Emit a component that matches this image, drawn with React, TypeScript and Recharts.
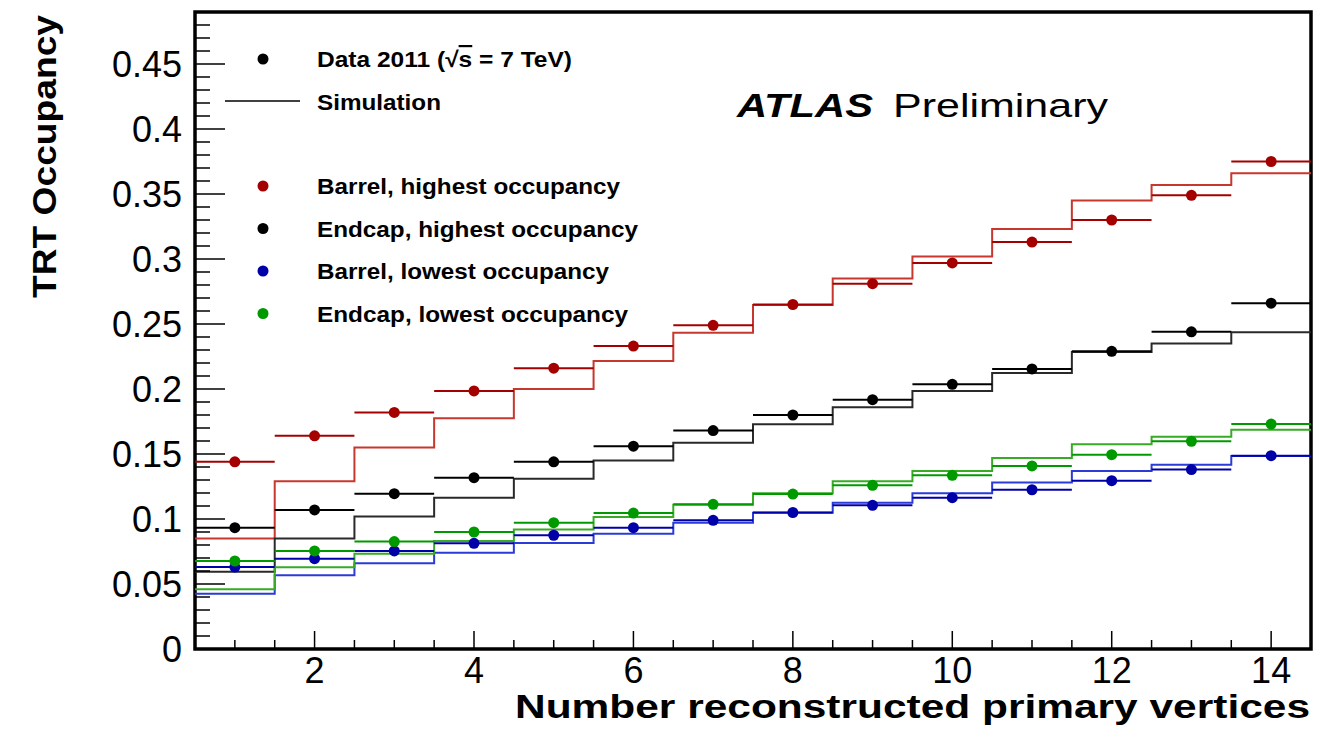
import React from "react";
import {
  ComposedChart,
  Line,
  Scatter,
  ErrorBar,
  XAxis,
  YAxis,
  ReferenceArea,
} from "recharts";

// number of reconstructed primary vertices (bin centres)
const binCenters = [1, 2, 3, 4, 5, 6, 7, 8, 9, 10, 11, 12, 13, 14];

// data 2011 points
const barrelHighData = [0.144, 0.164, 0.182, 0.1985, 0.216, 0.233, 0.249, 0.265, 0.281, 0.297, 0.313, 0.33, 0.349, 0.375];
const endcapHighData = [0.0933, 0.107, 0.1195, 0.1318, 0.144, 0.156, 0.168, 0.18, 0.1918, 0.2036, 0.2154, 0.229, 0.244, 0.266];
const barrelLowData = [0.063, 0.0695, 0.0754, 0.0813, 0.0875, 0.0933, 0.099, 0.105, 0.1105, 0.1164, 0.1225, 0.1295, 0.138, 0.1487];
const endcapLowData = [0.0677, 0.0754, 0.0826, 0.09, 0.0972, 0.1046, 0.1113, 0.1192, 0.1259, 0.1336, 0.1408, 0.1495, 0.1598, 0.173];

// simulation histograms
const barrelHighSim = [0.085, 0.129, 0.155, 0.1775, 0.2, 0.2215, 0.2433, 0.2646, 0.285, 0.302, 0.323, 0.345, 0.357, 0.366];
const endcapHighSim = [0.0595, 0.085, 0.102, 0.1164, 0.131, 0.145, 0.1587, 0.1728, 0.186, 0.1985, 0.2123, 0.2285, 0.235, 0.2436];
const barrelLowSim = [0.0425, 0.0567, 0.066, 0.074, 0.0815, 0.0887, 0.0972, 0.1049, 0.1125, 0.1198, 0.128, 0.137, 0.1418, 0.1485];
const endcapLowSim = [0.046, 0.0628, 0.0733, 0.083, 0.092, 0.1015, 0.111, 0.1198, 0.129, 0.137, 0.147, 0.1575, 0.1633, 0.1687];

const xMajorTicks = [2, 4, 6, 8, 10, 12, 14];
const yMajorTicks = [0, 0.05, 0.1, 0.15, 0.2, 0.25, 0.3, 0.35, 0.4, 0.45];
const yTickLabels = ["0", "0.05", "0.1", "0.15", "0.2", "0.25", "0.3", "0.35", "0.4", "0.45"];

const xTicks = Array.from({ length: 27 }, (_, i) => 1 + i * 0.5);
const yTicks = Array.from({ length: 49 }, (_, i) => i / 100);

const FONT = "'Liberation Sans', Arial, Helvetica, sans-serif";

const binBar = 0.5;

function toPoints(vals: number[]) {
  return binCenters.map((x, i) => ({ x, y: vals[i], ex: binBar }));
}

function toSteps(vals: number[]) {
  const pts = binCenters.map((x, i) => ({ x: x - binBar, y: vals[i] }));
  pts.push({ x: binCenters[binCenters.length - 1] + binBar, y: vals[vals.length - 1] });
  return pts;
}

const series = [
  { name: "Barrel, highest occupancy", len: 303, data: barrelHighData, sim: barrelHighSim, dot: "#a50000", line: "#c8372d" },
  { name: "Endcap, highest occupancy", len: 321, data: endcapHighData, sim: endcapHighSim, dot: "#000000", line: "#2a2a2a" },
  { name: "Barrel, lowest occupancy", len: 292, data: barrelLowData, sim: barrelLowSim, dot: "#0000a8", line: "#2b3bd8" },
  { name: "Endcap, lowest occupancy", len: 311, data: endcapLowData, sim: endcapLowSim, dot: "#009a00", line: "#38aa25" },
];

const isMajorY = (v: number) => Math.round(v * 100) % 5 === 0;
const isMajorX = (v: number) => xMajorTicks.includes(v);

const LeftTick = (props: any) => {
  const { x, y, payload } = props;
  const major = isMajorY(payload.value);
  const idx = yMajorTicks.findIndex((t) => Math.abs(t - payload.value) < 1e-6);
  return (
    <g>
      <line x1={x} x2={x + (major ? 30 : 15)} y1={y} y2={y} stroke="#000" strokeWidth={1.5} />
      {idx >= 0 && (
        <text x={x - 13} y={y} dy="0.36em" textAnchor="end" fontSize={36} fontFamily={FONT} fill="#000">
          {yTickLabels[idx]}
        </text>
      )}
    </g>
  );
};

const RightTick = (props: any) => {
  const { x, y, payload } = props;
  const major = isMajorY(payload.value);
  return <line x1={x} x2={x - (major ? 28 : 14)} y1={y} y2={y} stroke="#000" strokeWidth={1.5} />;
};

const BottomTick = (props: any) => {
  const { x, y, payload } = props;
  const major = isMajorX(payload.value);
  return (
    <g>
      <line x1={x} x2={x} y1={y} y2={y - (major ? 18 : 9)} stroke="#000" strokeWidth={1.5} />
      {major && (
        <text x={x} y={y + 34} textAnchor="middle" fontSize={36} fontFamily={FONT} fill="#000">
          {payload.value}
        </text>
      )}
    </g>
  );
};

const TopTick = (props: any) => {
  const { x, y, payload } = props;
  const major = isMajorX(payload.value);
  return <line x1={x} x2={x} y1={y} y2={y + (major ? 19 : 10)} stroke="#000" strokeWidth={1.5} />;
};

const Overlay = () => (
  <svg
    width={1334}
    height={729}
    style={{ position: "absolute", left: 0, top: 0, pointerEvents: "none" }}
    fontFamily={FONT}
  >
    {/* axis titles */}
    <text
      transform="translate(56,298) rotate(-90)"
      fontSize={33}
      fontWeight="bold"
      textLength={283}
      lengthAdjust="spacingAndGlyphs"
    >
      TRT Occupancy
    </text>
    <text x={515} y={718} fontSize={33} fontWeight="bold" textLength={795} lengthAdjust="spacingAndGlyphs">
      Number reconstructed primary vertices
    </text>

    {/* ATLAS label */}
    <text x={737} y={117} fontSize={33} fontWeight="bold" fontStyle="italic" textLength={136} lengthAdjust="spacingAndGlyphs">
      ATLAS
    </text>
    <text x={893} y={117} fontSize={33} textLength={215} lengthAdjust="spacingAndGlyphs">
      Preliminary
    </text>

    {/* legend */}
    <circle cx={263} cy={59} r={5.5} fill="#000" />
    <text x={317} y={67} fontSize={22} fontWeight="bold" textLength={255} lengthAdjust="spacingAndGlyphs">
      Data 2011 (√<tspan style={{ textDecoration: "overline" }}>s</tspan> = 7 TeV)
    </text>
    <line x1={225} x2={300} y1={101} y2={101} stroke="#000" strokeWidth={1.5} />
    <text x={317} y={110} fontSize={22} fontWeight="bold" textLength={124} lengthAdjust="spacingAndGlyphs">
      Simulation
    </text>
    {series.map((s, i) => (
      <g key={s.name}>
        <circle cx={263} cy={186 + i * 42.5} r={5.5} fill={s.dot} />
        <text
          x={317}
          y={194 + i * 42.5}
          fontSize={22}
          fontWeight="bold"
          textLength={s.len}
          lengthAdjust="spacingAndGlyphs"
        >
          {s.name}
        </text>
      </g>
    ))}
  </svg>
);

export default function App() {
  return (
    <div style={{ position: "absolute", left: 0, top: 0, width: 1334, height: 729, background: "#fff" }}>
      <ComposedChart width={1334} height={729} margin={{ top: 12, right: 23, bottom: 0, left: 0 }}>
        <XAxis
          xAxisId="b"
          dataKey="x"
          type="number"
          domain={[0.5, 14.5]}
          allowDataOverflow
          ticks={xTicks}
          interval={0}
          height={80}
          tickSize={0}
          tickMargin={0}
          tick={<BottomTick />}
          axisLine={false}
          tickLine={false}
        />
        <XAxis
          xAxisId="t"
          orientation="top"
          dataKey="x"
          type="number"
          domain={[0.5, 14.5]}
          allowDataOverflow
          ticks={xTicks}
          interval={0}
          height={0}
          tickSize={0}
          tickMargin={0}
          tick={<TopTick />}
          axisLine={false}
          tickLine={false}
        />
        <YAxis
          yAxisId="l"
          type="number"
          domain={[0, 0.49]}
          allowDataOverflow
          ticks={yTicks}
          interval={0}
          width={195}
          tickSize={0}
          tickMargin={0}
          tick={<LeftTick />}
          axisLine={false}
          tickLine={false}
        />
        <YAxis
          yAxisId="r"
          orientation="right"
          type="number"
          domain={[0, 0.49]}
          allowDataOverflow
          ticks={yTicks}
          interval={0}
          width={0}
          tickSize={0}
          tickMargin={0}
          tick={<RightTick />}
          axisLine={false}
          tickLine={false}
        />

        {series.map((s) => (
          <Line
            key={"sim-" + s.name}
            xAxisId="b"
            yAxisId="l"
            data={toSteps(s.sim)}
            dataKey="y"
            type="stepAfter"
            stroke={s.line}
            strokeWidth={2}
            dot={false}
            activeDot={false}
            isAnimationActive={false}
          />
        ))}
        {/* keeps top/right axes tied to the same scales */}
        <Line
          xAxisId="t"
          yAxisId="r"
          data={toSteps(barrelHighSim)}
          dataKey="y"
          stroke="none"
          dot={false}
          activeDot={false}
          isAnimationActive={false}
        />
        {series.map((s) => (
          <Scatter
            key={"data-" + s.name}
            xAxisId="b"
            yAxisId="l"
            data={toPoints(s.data)}
            dataKey="y"
            fill={s.dot}
            isAnimationActive={false}
            shape={(p: any) => <circle cx={p.cx} cy={p.cy} r={5.5} fill={s.dot} />}
          >
            <ErrorBar dataKey="ex" direction="x" width={0} stroke={s.dot} strokeWidth={2} />
          </Scatter>
        ))}
        {/* plot frame */}
        <ReferenceArea
          xAxisId="b"
          yAxisId="l"
          x1={0.5}
          x2={14.5}
          y1={0}
          y2={0.49}
          fill="none"
          stroke="#000"
          strokeWidth={3.5}
          ifOverflow="visible"
        />
      </ComposedChart>
      <Overlay />
    </div>
  );
}
